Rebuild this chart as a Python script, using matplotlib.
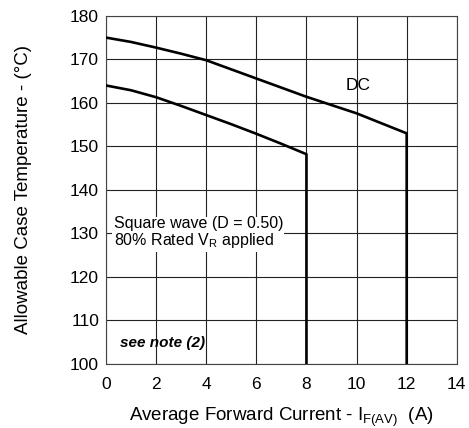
import matplotlib.pyplot as plt

plt.rcParams['font.family'] = ['Liberation Sans', 'DejaVu Sans']

# DC curve
dc_x = [0, 1, 2, 3, 4, 5, 6, 7, 8, 9, 10, 11, 12]
dc_y = [175.0, 174.0, 172.7, 171.3, 169.8, 167.7, 165.6, 163.5, 161.4, 159.5, 157.6, 155.3, 153.0]
# square wave curve
sq_x = [0, 1, 2, 3, 4, 5, 6, 7, 8]
sq_y = [164.0, 162.9, 161.3, 159.3, 157.2, 155.1, 152.9, 150.6, 148.2]

x_ticks = [0, 2, 4, 6, 8, 10, 12, 14]
y_ticks = [100, 110, 120, 130, 140, 150, 160, 170, 180]

fig = plt.figure(figsize=(4.69, 4.28), dpi=100)
ax = fig.add_axes([0.226, 0.1495, 0.748, 0.8135])

ax.plot(dc_x + [dc_x[-1]], dc_y + [100], color='black', lw=1.9, zorder=3)
ax.plot(sq_x + [sq_x[-1]], sq_y + [100], color='black', lw=1.9, zorder=3)

ax.set_xlim(0, 14)
ax.set_ylim(100, 180)
ax.set_xticks(x_ticks)
ax.set_yticks(y_ticks)
ax.grid(color='#222222', lw=0.8)
ax.tick_params(length=0, labelsize=12.5)
ax.tick_params(axis='x', pad=9)
ax.tick_params(axis='y', pad=5)
for s in ax.spines.values():
    s.set_color('#444444')
    s.set_linewidth(0.8)

ax.text(10.05, 164.0, 'DC', fontsize=12.5, ha='center', va='center')
ax.text(0.3, 130.0, 'Square wave (D = 0.50)\n80% Rated V$_\\mathregular{R}$ applied',
        fontsize=11.5, ha='left', va='center', linespacing=1.0,
        bbox=dict(facecolor='white', edgecolor='none', pad=1))
ax.text(0.55, 104.9, 'see note (2)', fontsize=11, fontweight='bold', style='italic',
        ha='left', va='center')

ax.set_ylabel('Allowable Case Temperature - (°C)', fontsize=13.5, labelpad=27)
ax.set_xlabel('Average Forward Current - I$_\\mathregular{F(AV)}$  (A)', fontsize=13.5, labelpad=10)

fig.savefig('out.png', dpi=100)
